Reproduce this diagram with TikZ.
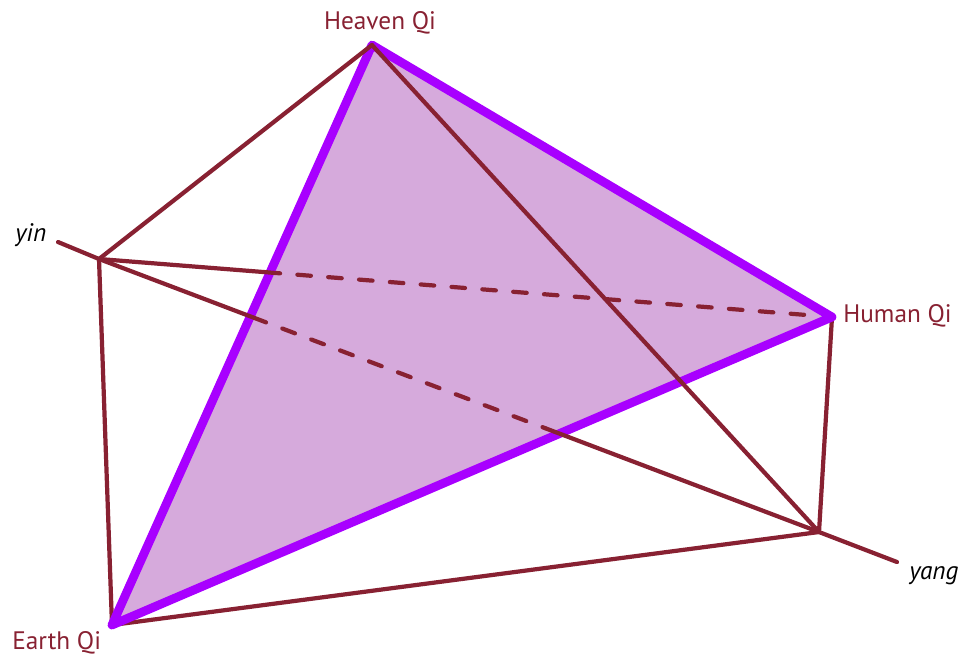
\documentclass[tikz,border=0pt]{standalone}
\usepackage{fontspec}
\setmainfont{PT Sans}
\usepackage{tikz}
\usetikzlibrary{calc}

\definecolor{qimaroon}{RGB}{136,33,50}
\definecolor{qipurple}{RGB}{168,0,255}
\definecolor{qifill}{RGB}{214,170,220}

\tikzset{
	axisline/.style={draw=qimaroon, line width=2.4pt, line cap=round},
	hiddenline/.style={axisline, dash pattern=on 7.7pt off 9.9pt, dash phase=7.7pt},
	qitriangle/.style={draw=qipurple, line width=5pt, line join=round, fill=qifill},
	qilabel/.style={text=qimaroon, font=\fontsize{14.4pt}{17pt}\selectfont, inner sep=0pt},
	pollabel/.style={text=black, font=\fontsize{14.4pt}{17pt}\selectfont\itshape, inner sep=0pt}
}

\begin{document}
\begin{tikzpicture}[x=0.02cm, y=-0.02cm]
		\useasboundingbox (0,0) rectangle (971,654);

		% Vertices
		\coordinate (heaven) at (372,45);
		\coordinate (human) at (832,317);
		\coordinate (earth) at (112,625);
		\coordinate (yinpt) at (99,259);
		\coordinate (yangpt) at (819,532);
		\coordinate (yinend) at (58,242);
		\coordinate (yangend) at (897,562);

		% Where the lines pass behind the triangle
		\coordinate (yinfront) at ($(yinpt)!0.247!(human)$);
		\coordinate (yinback) at ($(yinpt)!0.97!(human)$);
		\coordinate (axisfront) at ($(yinpt)!0.232!(yangpt)$);
		\coordinate (axisback) at ($(yinpt)!0.62!(yangpt)$);

		% Lines under the corners
		\draw[axisline] (yinpt) -- (earth) -- (yangpt) -- (human);

		% Triangle
		\draw[qitriangle] (heaven) -- (human) -- (earth) -- cycle;

		% Lines from the yin point
		\draw[axisline] (yinend) -- (yinpt) -- (axisfront);
		\draw[hiddenline] (axisfront) -- (axisback);
		\draw[axisline] (axisback) -- (yangpt) -- (yangend);
		\draw[axisline] (yinpt) -- (yinfront);
		\draw[hiddenline] (yinfront) -- (yinback);
		\draw[axisline] (heaven) -- (yinpt);

		% Line from the yang point
		\draw[axisline] (heaven) -- (yangpt);

		% Labels
		\node[qilabel, anchor=base] (heavenlabel) at (380,29) {Heaven Qi};
		\node[qilabel, anchor=base west] (humanlabel) at (843,322) {Human Qi};
		\node[qilabel, anchor=base west] (earthlabel) at (12,649) {Earth Qi};
		\node[pollabel, anchor=base west] (yinlabel) at (15,241) {yin};
		\node[pollabel, anchor=base west] (yanglabel) at (909,579) {yang};
	\end{tikzpicture}
\end{document}
